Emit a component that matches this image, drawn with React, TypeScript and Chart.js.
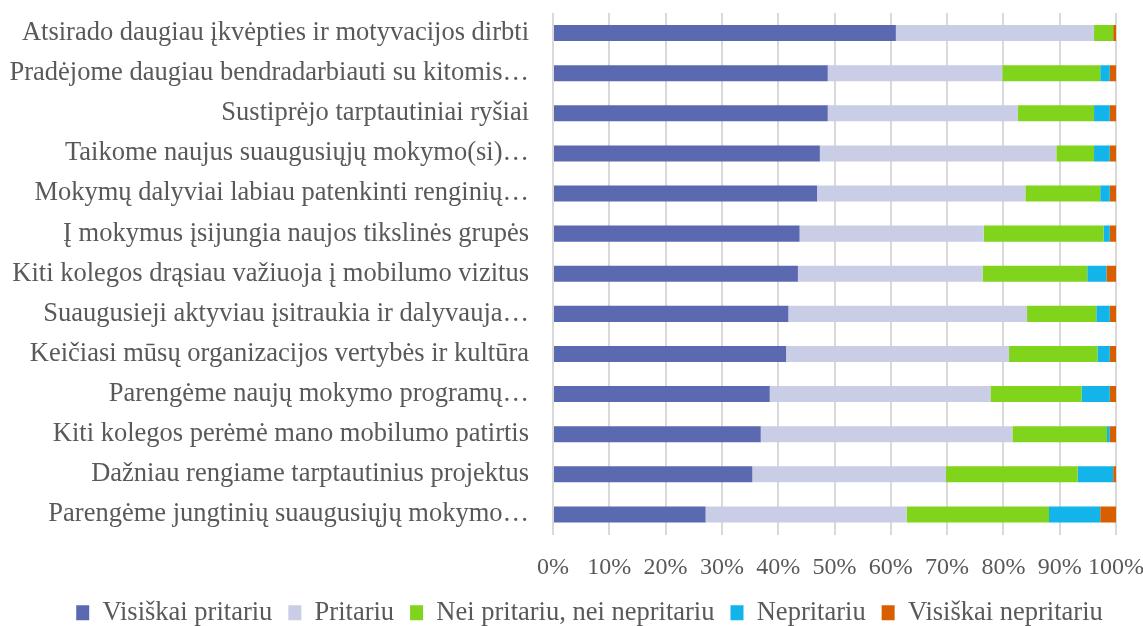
import React, { useEffect, useRef } from "react";
import { Chart, registerables } from "chart.js";

Chart.register(...registerables);

const categories = [
  "Atsirado daugiau įkvėpties ir motyvacijos dirbti",
  "Pradėjome daugiau bendradarbiauti su kitomis…",
  "Sustiprėjo tarptautiniai ryšiai",
  "Taikome naujus suaugusiųjų mokymo(si)…",
  "Mokymų dalyviai labiau patenkinti renginių…",
  "Į mokymus įsijungia naujos tikslinės grupės",
  "Kiti kolegos drąsiau važiuoja į mobilumo vizitus",
  "Suaugusieji aktyviau įsitraukia ir dalyvauja…",
  "Keičiasi mūsų organizacijos vertybės ir kultūra",
  "Parengėme naujų mokymo programų…",
  "Kiti kolegos perėmė mano mobilumo patirtis",
  "Dažniau rengiame tarptautinius projektus",
  "Parengėme jungtinių suaugusiųjų mokymo…",
];

const visiskaiPritariu = [60.9, 48.8, 48.8, 47.4, 46.9, 43.8, 43.5, 41.8, 41.4, 38.5, 36.9, 35.4, 27.1];
const pritariu = [35.2, 31.0, 33.8, 42.0, 37.0, 32.7, 32.8, 42.4, 39.6, 39.2, 44.7, 34.4, 35.7];
const neiPritariuNeiNepritariu = [3.4, 17.4, 13.5, 6.7, 13.3, 21.3, 18.6, 12.3, 15.7, 16.2, 16.8, 23.4, 25.3];
const nepritariu = [0, 1.7, 2.8, 2.8, 1.7, 1.1, 3.4, 2.4, 2.2, 5.0, 0.5, 6.3, 9.1];
const visiskaiNepritariu = [0.5, 1.1, 1.1, 1.1, 1.1, 1.1, 1.7, 1.1, 1.1, 1.1, 1.1, 0.5, 2.8];

const seriesNames = [
  "Visiškai pritariu",
  "Pritariu",
  "Nei pritariu, nei nepritariu",
  "Nepritariu",
  "Visiškai nepritariu",
];
const seriesColors = ["#5B69B0", "#C9CDE6", "#80D41C", "#12B4E9", "#D95E00"];

const TEXT = "#595959";
const FONT = "'Liberation Serif', 'Times New Roman', serif";

const shiftLegend = {
  id: "shiftLegend",
  afterLayout(chart: any) {
    const l = chart.legend;
    if (l) {
      l.left += 18;
      l.right += 18;
    }
  },
};

export default function App() {
  const ref = useRef<HTMLCanvasElement | null>(null);
  useEffect(() => {
    if (!ref.current) return;
    const series = [visiskaiPritariu, pritariu, neiPritariuNeiNepritariu, nepritariu, visiskaiNepritariu];
    const chart = new Chart(ref.current, {
      type: "bar",
      data: {
        labels: categories,
        datasets: series.map((d, i) => ({
          label: seriesNames[i],
          data: d,
          backgroundColor: seriesColors[i],
          borderWidth: 0,
          barPercentage: 0.5,
          categoryPercentage: 0.8,
        })),
      },
      options: {
        indexAxis: "y",
        animation: false,
        responsive: true,
        maintainAspectRatio: false,
        layout: { padding: { top: 13, left: 0, right: 0, bottom: -10 } },
        scales: {
          x: {
            stacked: true,
            min: 0,
            max: 100,
            afterFit: (scale: any) => {
              scale.height = 49;
              scale.paddingLeft = 0;
              scale.paddingRight = 27;
            },
            ticks: {
              stepSize: 10,
              color: TEXT,
              font: { family: FONT, size: 24 },
              padding: 19,
              callback: (v: any) => v + "%",
              maxRotation: 0,
              autoSkip: false,
            },
            grid: { color: "#d9d9d9", lineWidth: 2, drawTicks: false },
            border: { display: false },
          },
          y: {
            stacked: true,
            afterFit: (scale: any) => {
              scale.width = 553;
              scale.paddingTop = 0;
              scale.paddingBottom = 0;
            },
            ticks: {
              color: TEXT,
              font: { family: FONT, size: 26.5 },
              padding: 16,
              autoSkip: false,
            },
            grid: { display: false },
            border: { display: false },
          },
        },
        plugins: {
          legend: {
            position: "bottom",
            labels: {
              color: TEXT,
              font: { family: FONT, size: 26.5 },
              boxWidth: 13,
              boxHeight: 15,
              padding: 16,
            },
          },
          tooltip: { enabled: false },
        },
      },
      plugins: [shiftLegend],
    });
    return () => chart.destroy();
  }, []);
  return (
    <div style={{ position: "fixed", left: 0, top: 0, width: 1143, height: 626, background: "#fff" }}>
      <canvas ref={ref} />
    </div>
  );
}
